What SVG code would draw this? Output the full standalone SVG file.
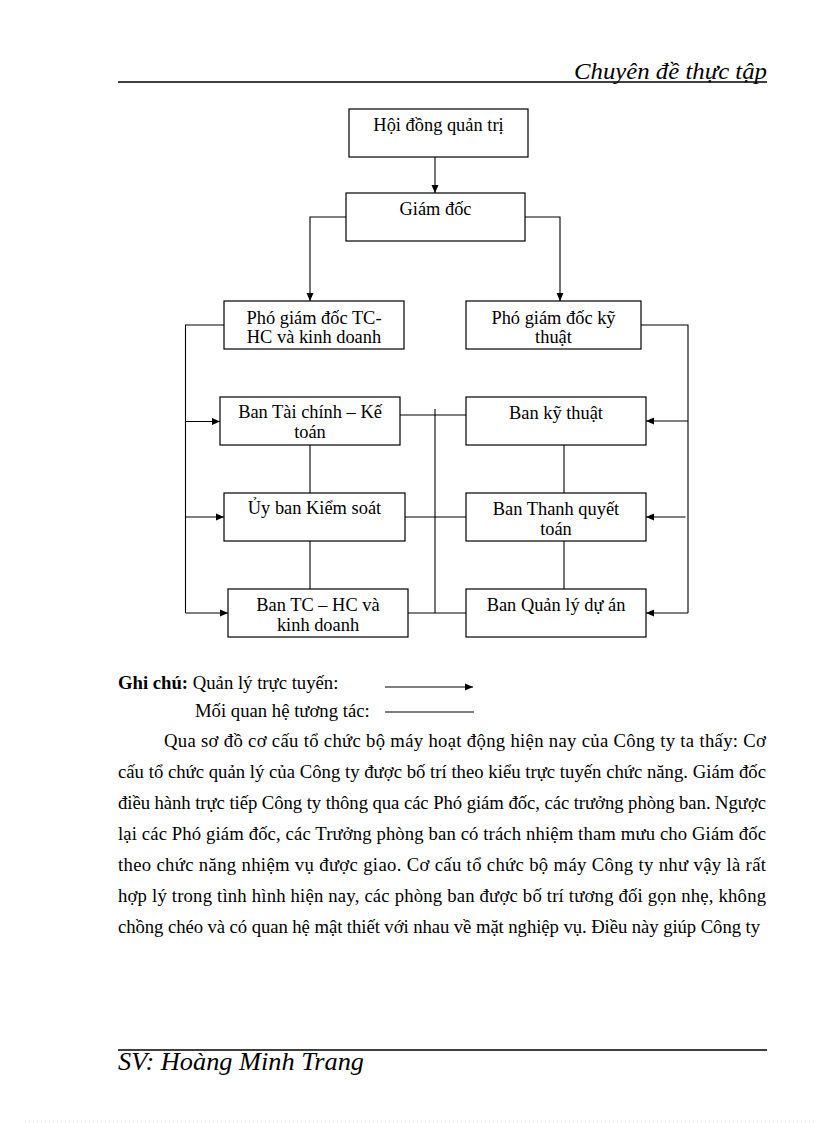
<svg xmlns="http://www.w3.org/2000/svg" width="816" height="1123" viewBox="0 0 816 1123">
<style>
  .box { fill: #fff; stroke: #000; stroke-width: 1.2; }
  .lbl { font-family: "Liberation Serif", "Times New Roman", serif; font-size: 18.4px; fill: #000; text-anchor: middle; }
  .body { font-family: "Liberation Serif", "Times New Roman", serif; font-size: 18.7px; fill: #000; }
  .ital { font-family: "Liberation Serif", "Times New Roman", serif; font-style: italic; fill: #000; }
  .ln { fill: none; stroke: #000; stroke-width: 1.1; }
  .arr { fill: none; stroke: #000; stroke-width: 1.1; marker-end: url(#ah); }
</style>
<defs>
  <marker id="ah" markerUnits="userSpaceOnUse" markerWidth="9" markerHeight="8" refX="8" refY="4" orient="auto">
    <path d="M0,0.5 L8,4 L0,7.5 Z" fill="#000"/>
  </marker>
</defs>
<rect width="816" height="1123" fill="#fff"/>

<g id="header">
  <line x1="118" y1="82" x2="767" y2="82" stroke="#000" stroke-width="1.3"/>
  <text class="ital" x="574" y="79" font-size="24" textLength="193" lengthAdjust="spacingAndGlyphs">Chuyên đề thực tập</text>
</g>

<g id="connectors">
  <path class="arr" d="M435,157 V193"/>
  <path class="arr" d="M346,217 H310 V301"/>
  <path class="arr" d="M525,217 H560 V301"/>
  <path class="ln" d="M224,325 H185.5 V613"/>
  <path class="arr" d="M185.5,421.5 H220"/>
  <path class="arr" d="M185.5,517 H224"/>
  <path class="arr" d="M185.5,613 H228"/>
  <path class="ln" d="M641,325 H688 V613"/>
  <path class="arr" d="M688,421 H646"/>
  <path class="arr" d="M685.5,517 H646"/>
  <path class="arr" d="M688,613 H646"/>
  <path class="ln" d="M435,409 V613"/>
  <path class="ln" d="M400,415 H466"/>
  <path class="ln" d="M405,517 H466"/>
  <path class="ln" d="M408,613 H466"/>
  <path class="ln" d="M310,445 V493"/>
  <path class="ln" d="M310,541 V589"/>
  <path class="ln" d="M564,445 V493"/>
  <path class="ln" d="M564,541 V589"/>
</g>

<g id="n-hdqt">
  <rect class="box" x="349" y="109" width="179" height="48"/>
  <text class="lbl" x="438.5" y="131">Hội đồng quản trị</text>
</g>
<g id="n-gd">
  <rect class="box" x="346" y="193" width="179" height="48"/>
  <text class="lbl" x="435.5" y="215">Giám đốc</text>
</g>
<g id="n-pgd-tchc">
  <rect class="box" x="224" y="301" width="180" height="48"/>
  <text class="lbl" x="314" y="324">Phó giám đốc TC-</text>
  <text class="lbl" x="314" y="343">HC và kinh doanh</text>
</g>
<g id="n-pgd-kt">
  <rect class="box" x="466" y="301" width="175" height="48"/>
  <text class="lbl" x="553.5" y="324">Phó giám đốc kỹ</text>
  <text class="lbl" x="553.5" y="343">thuật</text>
</g>
<g id="n-tckt">
  <rect class="box" x="220" y="397" width="180" height="48"/>
  <text class="lbl" x="310" y="418">Ban Tài chính – Kế</text>
  <text class="lbl" x="310" y="438">toán</text>
</g>
<g id="n-kt">
  <rect class="box" x="466" y="397" width="180" height="48"/>
  <text class="lbl" x="556" y="419">Ban kỹ thuật</text>
</g>
<g id="n-ks">
  <rect class="box" x="224" y="493" width="181" height="48"/>
  <text class="lbl" x="314.5" y="514">Ủy ban Kiểm soát</text>
</g>
<g id="n-tqt">
  <rect class="box" x="466" y="493" width="180" height="48"/>
  <text class="lbl" x="556" y="515">Ban Thanh quyết</text>
  <text class="lbl" x="556" y="535">toán</text>
</g>
<g id="n-tchc">
  <rect class="box" x="228" y="589" width="180" height="48"/>
  <text class="lbl" x="318" y="611">Ban TC – HC và</text>
  <text class="lbl" x="318" y="631">kinh doanh</text>
</g>
<g id="n-qlda">
  <rect class="box" x="466" y="589" width="180" height="48"/>
  <text class="lbl" x="556" y="611">Ban Quản lý dự án</text>
</g>

<g id="legend">
  <text class="body" x="118" y="689"><tspan font-weight="bold">Ghi chú:</tspan> Quản lý trực tuyến:</text>
  <path class="arr" d="M385,687 H473"/>
  <text class="body" x="195" y="717">Mối quan hệ tương tác:</text>
  <line x1="385" y1="712" x2="474" y2="712" stroke="#000" stroke-width="1.1"/>
</g>

<g id="paragraph" class="body">
  <text x="164" y="747" textLength="602" lengthAdjust="spacing">Qua sơ đồ cơ cấu tổ chức bộ máy hoạt động hiện nay của Công ty ta thấy: Cơ</text>
  <text x="118" y="778" textLength="648" lengthAdjust="spacing">cấu tổ chức quản lý của Công ty được bố trí theo kiểu trực tuyến chức năng. Giám đốc</text>
  <text x="118" y="809" textLength="648" lengthAdjust="spacing">điều hành trực tiếp Công ty thông qua các Phó giám đốc, các trưởng phòng ban. Ngược</text>
  <text x="118" y="840" textLength="648" lengthAdjust="spacing">lại các Phó giám đốc, các Trưởng phòng ban có trách nhiệm tham mưu cho Giám đốc</text>
  <text x="118" y="871" textLength="648" lengthAdjust="spacing">theo chức năng nhiệm vụ được giao. Cơ cấu tổ chức bộ máy Công ty như vậy là rất</text>
  <text x="118" y="902" textLength="648" lengthAdjust="spacing">hợp lý trong tình hình hiện nay, các phòng ban được bố trí tương đối gọn nhẹ, không</text>
  <text x="118" y="933" textLength="642" lengthAdjust="spacing">chồng chéo và có quan hệ mật thiết với nhau về mặt nghiệp vụ. Điều này giúp Công ty</text>
</g>

<g id="footer">
  <line x1="118" y1="1050" x2="767" y2="1050" stroke="#000" stroke-width="1.4"/>
  <text class="ital" x="118" y="1070" font-size="26" textLength="246" lengthAdjust="spacingAndGlyphs">SV: Hoàng Minh Trang</text>
  <line x1="25" y1="1122" x2="816" y2="1122" stroke="#d8d8d8" stroke-width="1" stroke-dasharray="1,3"/>
</g>
</svg>
